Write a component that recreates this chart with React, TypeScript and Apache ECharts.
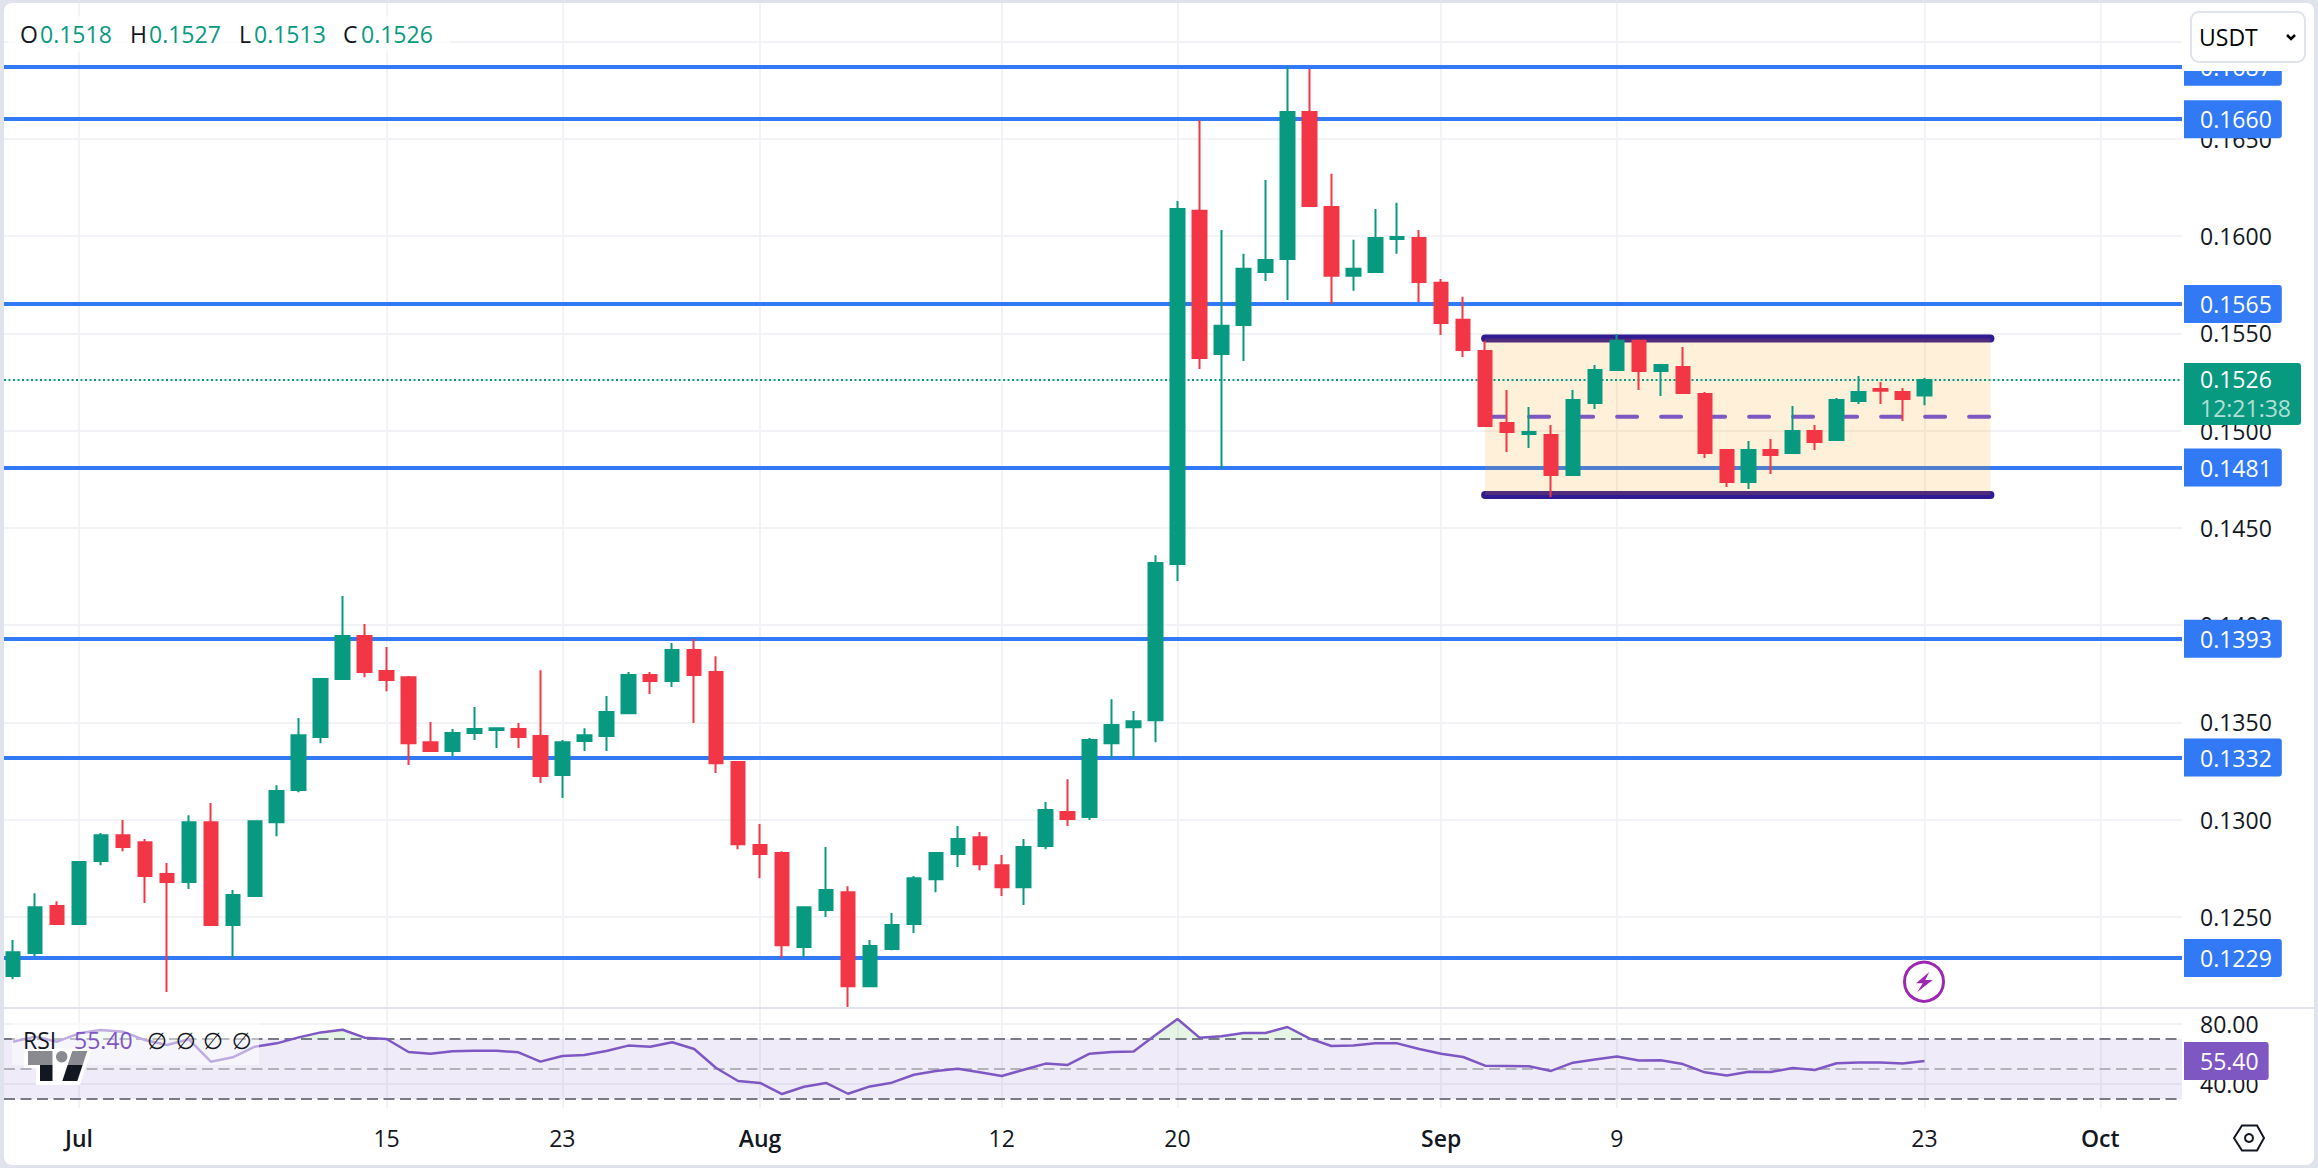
import React, { useEffect, useRef } from "react";
import * as echarts from "echarts";

const W = 2318;
const H = 1168;
const FONT = '"Open Sans", "DejaVu Sans", sans-serif';
const FS = 23;
const UP = "#089981";
const DOWN = "#f23645";
const BLUE = "#3179f5";
const PURPLE = "#7e57c2";
const GRID = "#f2f3f6";
const INK = "#131722";

// day offset from 28 Jun for each candle is its array index
const opens = [
  0.12197, 0.12315, 0.12557, 0.12464, 0.12788, 0.12921, 0.12885, 0.12721, 0.1268, 0.12988,
  0.12459, 0.12608, 0.12988, 0.13153, 0.13425, 0.13723, 0.13944, 0.13764, 0.13733, 0.13399,
  0.13353, 0.13446, 0.13461, 0.13466, 0.1343, 0.1323, 0.13405, 0.1343, 0.13548, 0.13744,
  0.13713, 0.13872, 0.13759, 0.13297, 0.1287, 0.12829, 0.12346, 0.12536, 0.12628, 0.12145,
  0.12336, 0.12464, 0.12695, 0.12824, 0.12911, 0.12767, 0.12654, 0.12865, 0.1304, 0.13014,
  0.13394, 0.13476, 0.13512, 0.14314, 0.16129, 0.15394, 0.15543, 0.15815, 0.15882, 0.16637,
  0.16149, 0.15795, 0.15815, 0.15985, 0.1599, 0.15759, 0.15569, 0.15409, 0.15039, 0.14983,
  0.14977, 0.14772, 0.15142, 0.15311, 0.15461, 0.15306, 0.15327, 0.15188, 0.149, 0.14736,
  0.149, 0.14885, 0.14998, 0.14952, 0.15152, 0.15214, 0.15198, 0.1518,
];
const closes = [
  0.1232, 0.12551, 0.12464, 0.12783, 0.12921, 0.1286, 0.12711, 0.1268, 0.12988, 0.12459,
  0.12613, 0.12993, 0.13148, 0.13435, 0.13723, 0.13944, 0.13759, 0.13718, 0.13394, 0.13353,
  0.13446, 0.13466, 0.13471, 0.13425, 0.13225, 0.13399, 0.13435, 0.13554, 0.13744, 0.13713,
  0.13872, 0.13744, 0.13291, 0.12875, 0.12824, 0.12356, 0.12551, 0.12639, 0.12145, 0.12351,
  0.12459, 0.127, 0.12829, 0.12901, 0.12772, 0.12654, 0.1286, 0.1305, 0.13004, 0.1341,
  0.13487, 0.13507, 0.14319, 0.16139, 0.15373, 0.15538, 0.15831, 0.15877, 0.16637, 0.16154,
  0.15795, 0.15831, 0.1599, 0.15995, 0.15764, 0.15553, 0.15414, 0.15024, 0.14993, 0.14993,
  0.14772, 0.15157, 0.15311, 0.15461, 0.15306, 0.15337, 0.15193, 0.14885, 0.14736, 0.149,
  0.14875, 0.14998, 0.14941, 0.15157, 0.15198, 0.15204, 0.15162, 0.1526,
];
const highs = [
  0.12382, 0.12623, 0.12582, 0.12783, 0.12932, 0.12999, 0.12901, 0.12778, 0.13024, 0.13086,
  0.12639, 0.12993, 0.13178, 0.13523, 0.13728, 0.1415, 0.14006, 0.13888, 0.13739, 0.13502,
  0.13466, 0.13579, 0.13476, 0.13497, 0.13769, 0.1341, 0.13471, 0.13636, 0.13759, 0.13759,
  0.13908, 0.13929, 0.13841, 0.13297, 0.12978, 0.12839, 0.12551, 0.1286, 0.12659, 0.12382,
  0.12521, 0.12711, 0.12829, 0.12968, 0.12937, 0.12819, 0.12901, 0.13091, 0.13209, 0.1342,
  0.1362, 0.13559, 0.1436, 0.1618, 0.16596, 0.16031, 0.15908, 0.16288, 0.16869, 0.16858,
  0.16319, 0.1598, 0.16139, 0.1617, 0.16031, 0.15779, 0.15687, 0.15461, 0.15209, 0.15121,
  0.15029, 0.15209, 0.15337, 0.15496, 0.15461, 0.15337, 0.1543, 0.15198, 0.149, 0.14947,
  0.14957, 0.15126, 0.15029, 0.15168, 0.15281, 0.1525, 0.15219, 0.1527,
];
const lows = [
  0.12181, 0.123, 0.12464, 0.12464, 0.12767, 0.12839, 0.12572, 0.12115, 0.12644, 0.12454,
  0.12291, 0.12608, 0.12916, 0.13142, 0.13394, 0.13723, 0.13733, 0.13661, 0.13281, 0.13353,
  0.13327, 0.1341, 0.13369, 0.13369, 0.13189, 0.13112, 0.13353, 0.13353, 0.13548, 0.13646,
  0.13682, 0.13497, 0.1324, 0.12849, 0.127, 0.12291, 0.12294, 0.125, 0.12037, 0.1214,
  0.1233, 0.12418, 0.12628, 0.12757, 0.12741, 0.12608, 0.12562, 0.12849, 0.12968, 0.12999,
  0.13317, 0.13317, 0.13399, 0.14227, 0.15317, 0.14808, 0.15358, 0.15769, 0.15671, 0.16149,
  0.15651, 0.15718, 0.1581, 0.15908, 0.15661, 0.15491, 0.15378, 0.15024, 0.1489, 0.14911,
  0.14659, 0.14772, 0.15111, 0.15311, 0.15209, 0.15178, 0.15188, 0.14859, 0.1471, 0.147,
  0.14777, 0.1488, 0.149, 0.14947, 0.15137, 0.15137, 0.15049, 0.1513,
];
const rsi = [
  68.2, 71.6, 68.2, 73.8, 76.0, 74.9, 69.3, 66.0, 69.8, 54.9,
  57.8, 64.9, 67.1, 71.1, 74.4, 76.2, 70.9, 70.0, 61.3, 60.2,
  61.8, 62.2, 62.2, 61.1, 54.9, 58.7, 59.3, 62.0, 65.6, 64.9,
  67.8, 63.3, 50.7, 42.0, 40.7, 33.3, 38.2, 40.7, 33.5, 38.4,
  40.9, 46.2, 48.7, 50.2, 47.8, 45.3, 49.5, 53.6, 52.7, 60.2,
  61.3, 61.6, 72.7, 83.3, 70.9, 71.8, 74.0, 74.0, 78.0, 70.4,
  65.3, 65.6, 67.1, 67.1, 63.3, 60.2, 58.0, 52.2, 52.0, 51.8,
  48.7, 54.2, 56.4, 58.4, 55.6, 55.8, 53.3, 47.8, 45.6, 48.2,
  48.0, 50.7, 49.3, 53.8, 54.4, 54.4, 53.6, 55.4,
];

const priceGridTicks = [0.125, 0.13, 0.135, 0.14, 0.145, 0.15, 0.155, 0.16, 0.165, 0.17];
const priceLabelTicks = [0.125, 0.13, 0.135, 0.14, 0.145, 0.15, 0.155, 0.16, 0.165];
const rsiTicks = [40, 80];
const levels = [0.1687, 0.166, 0.1565, 0.1481, 0.1393, 0.1332, 0.1229];
const lastPrice = 0.1526;
const lastRsi = 55.4;
const countdown = "12:21:38";
const xTickDays = [3, 17, 25, 34, 45, 53, 65, 73, 87, 95];
const xTickLabels = ["Jul", "15", "23", "Aug", "12", "20", "Sep", "9", "23", "Oct"];
const monthLabels = ["Jul", "Aug", "Sep", "Oct"];
const rangeDays = [67, 90];
const rangeTop = 0.15473;
const rangeMid = 0.15071;
const rangeBottom = 0.14669;
const ohlcLegend = [
  { key: "O", val: "0.1518", kx: 20, vx: 40 },
  { key: "H", val: "0.1527", kx: 130, vx: 149 },
  { key: "L", val: "0.1513", kx: 239, vx: 254 },
  { key: "C", val: "0.1526", kx: 343, vx: 361 },
];

const txt = (text: string, x: number, y: number, fill: string, z: number, extra: any = {}) => ({
  type: "text",
  x,
  y,
  z,
  silent: true,
  style: { text, fill, fontSize: FS, fontFamily: FONT, align: "left", verticalAlign: "middle", ...extra },
});

const graphicEls: any[] = [
  // pane separator
  { type: "line", z: 50, silent: true, shape: { x1: 4, y1: 1008, x2: 2315, y2: 1008 }, style: { stroke: "#e0e3eb", lineWidth: 2 } },
  // mask behind the currency selector
  { type: "rect", z: 100, silent: true, shape: { x: 2183, y: 4, width: 128, height: 67 }, style: { fill: "#ffffff" } },
  { type: "rect", z: 101, silent: true, shape: { x: 2191, y: 12, width: 114, height: 50, r: 8 }, style: { fill: "#ffffff", stroke: "#e0e3eb", lineWidth: 2 } },
  txt("USDT", 2199, 37, "#000000", 102),
  { type: "polyline", z: 102, silent: true, shape: { points: [[2287, 35], [2291, 39], [2295, 35]] }, style: { stroke: "#000000", lineWidth: 2.5, fill: "none" } },
  // OHLC legend
  { type: "rect", z: 100, silent: true, shape: { x: 8, y: 16, width: 442, height: 36, r: 4 }, style: { fill: "rgba(255,255,255,0.7)" } },
  ...ohlcLegend.flatMap((o) => [txt(o.key, o.kx, 34, INK, 102), txt(o.val, o.vx, 34, UP, 102)]),
  // TradingView mark and RSI legend
  { type: "polygon", z: 89, silent: true, shape: { points: [[24, 1048], [92, 1048], [80, 1085], [36, 1085], [36, 1068], [24, 1068]] }, style: { fill: "#ffffff" } },
  { type: "polygon", z: 90, silent: true, shape: { points: [[28, 1051], [52.5, 1051], [52.5, 1081], [40, 1081], [40, 1065], [28, 1065]] }, style: { fill: INK } },
  { type: "circle", z: 90, silent: true, shape: { cx: 61.7, cy: 1056.7, r: 5.7 }, style: { fill: INK } },
  { type: "polygon", z: 90, silent: true, shape: { points: [[72.3, 1051], [87.3, 1051], [77.3, 1081], [62.3, 1081]] }, style: { fill: INK } },
  { type: "rect", z: 91, silent: true, shape: { x: 12, y: 1023, width: 247, height: 42 }, style: { fill: "rgba(255,255,255,0.5)" } },
  txt("RSI", 23, 1040, INK, 92),
  txt("55.40", 74, 1040, PURPLE, 92),
  ...[157, 185.7, 213, 241.7].map((x) => txt("\u2205", x, 1040, INK, 92, { align: "center" })),
  // flash icon
  { type: "circle", z: 60, silent: true, shape: { cx: 1924, cy: 981.7, r: 22 }, style: { fill: "#ffffff" } },
  { type: "circle", z: 61, silent: true, shape: { cx: 1924, cy: 981.7, r: 19.5 }, style: { fill: "#ffffff", stroke: "#9c27b0", lineWidth: 3 } },
  { type: "polygon", z: 62, silent: true, shape: { points: [[1929.3, 972], [1916, 983.3], [1922.7, 983.3], [1917.3, 992], [1932.7, 980], [1925.3, 980]] }, style: { fill: "#9c27b0" } },
  // settings icon
  { type: "polygon", z: 60, silent: true, shape: { points: [[2234, 1138], [2242, 1125.5], [2257, 1125.5], [2264, 1138], [2257, 1150.5], [2242, 1150.5]] }, style: { fill: "none", stroke: INK, lineWidth: 2 } },
  { type: "circle", z: 60, silent: true, shape: { cx: 2249, cy: 1138, r: 4 }, style: { fill: "none", stroke: INK, lineWidth: 2 } },
];

const xCommon = (gridIndex: number, showLabel: boolean) => ({
  type: "value",
  gridIndex,
  min: -0.414,
  max: 98.72,
  axisLine: { show: false },
  axisTick: { show: false, customValues: xTickDays },
  splitLine: { show: gridIndex !== 2, lineStyle: { color: GRID, width: 2 } },
  axisLabel: {
    show: showLabel,
    customValues: xTickDays,
    margin: 18,
    fontSize: FS,
    fontFamily: FONT,
    color: INK,
    hideOverlap: false,
    showMinLabel: true,
    showMaxLabel: true,
    formatter: (v: number) => {
      const s = xTickLabels[xTickDays.indexOf(Math.round(v))] ?? "";
      return monthLabels.includes(s) ? `{m|${s}}` : s;
    },
    rich: { m: { fontSize: FS, fontFamily: FONT, color: INK, fontWeight: 600 } },
  },
});

const yLabel = (digits: number, values: number[]) => ({
  customValues: values,
  margin: 18,
  fontSize: FS,
  fontFamily: FONT,
  color: INK,
  formatter: (v: number) => Number(v).toFixed(digits),
});

const option: any = {
  animation: false,
  backgroundColor: "transparent",
  textStyle: { fontFamily: FONT },
  grid: [
    { left: 4, top: 3, width: 2178, height: 1005 },
    { left: 4, top: 1009, width: 2178, height: 99 },
    { left: 4, top: 1009, width: 2178, height: 30 },
  ],
  xAxis: [xCommon(0, false), xCommon(1, true), xCommon(2, false)],
  yAxis: [
    {
      type: "value",
      gridIndex: 0,
      position: "right",
      min: 0.12033,
      max: 0.17197,
      axisLine: { show: false },
      axisTick: { show: false, customValues: priceGridTicks },
      splitLine: { show: true, lineStyle: { color: GRID, width: 2 } },
      axisLabel: yLabel(4, priceLabelTicks),
    },
    {
      type: "value",
      gridIndex: 1,
      position: "right",
      min: 24,
      max: 90,
      axisLine: { show: false },
      axisTick: { show: false, customValues: rsiTicks },
      splitLine: { show: true, lineStyle: { color: GRID, width: 2 } },
      axisLabel: yLabel(2, rsiTicks),
    },
    {
      type: "value",
      gridIndex: 2,
      position: "right",
      min: 70,
      max: 90,
      axisLine: { show: false },
      axisTick: { show: false },
      splitLine: { show: false },
      axisLabel: { show: false },
    },
  ],
  series: [
    {
      name: "levels",
      type: "line",
      xAxisIndex: 0,
      yAxisIndex: 0,
      z: 2,
      data: [],
      silent: true,
      markLine: {
        z: 2,
        silent: true,
        symbol: "none",
        precision: 5,
        lineStyle: { color: BLUE, width: 4, type: "solid" },
        label: {
          show: true,
          position: "end",
          distance: 2,
          formatter: (p: any) => Number(p.value).toFixed(4),
          color: "#ffffff",
          backgroundColor: BLUE,
          padding: [8, 10, 7, 16],
          borderRadius: [0, 3, 3, 0],
          fontSize: FS,
          fontFamily: FONT,
        },
        data: levels.map((v) => ({ yAxis: v })),
      },
    },
    {
      name: "range box",
      type: "line",
      xAxisIndex: 0,
      yAxisIndex: 0,
      z: 3,
      data: [],
      silent: true,
      markArea: {
        z: 3,
        silent: true,
        itemStyle: { color: "rgba(255,152,0,0.15)" },
        data: [[{ coord: [rangeDays[0], rangeTop] }, { coord: [rangeDays[1], rangeBottom] }]],
      },
    },
    ...[rangeTop, rangeBottom].map((v) => ({
      name: "range edge",
      type: "line",
      xAxisIndex: 0,
      yAxisIndex: 0,
      z: 2,
      silent: true,
      showSymbol: false,
      symbol: "none",
      clip: false,
      lineStyle: { color: "#311b92", width: 8, cap: "round" },
      data: rangeDays.map((d) => [d, v]),
    })),
    {
      name: "range mid",
      type: "line",
      xAxisIndex: 0,
      yAxisIndex: 0,
      z: 4,
      silent: true,
      showSymbol: false,
      symbol: "none",
      lineStyle: { color: PURPLE, width: 4, type: [20, 24], cap: "round" },
      data: rangeDays.map((d) => [d, rangeMid]),
    },
    {
      name: "last price",
      type: "line",
      xAxisIndex: 0,
      yAxisIndex: 0,
      z: 4,
      data: [],
      silent: true,
      markLine: {
        z: 4,
        silent: true,
        symbol: "none",
        precision: 5,
        lineStyle: { color: UP, width: 2, type: [2, 2.5] },
        label: {
          show: true,
          position: "end",
          distance: 2,
          offset: [0, 14],
          formatter: (p: any) => `{a|${Number(p.value).toFixed(4)}}\n{b|${countdown}}`,
          backgroundColor: UP,
          padding: [2, 10, 2, 16],
          borderRadius: [0, 3, 3, 0],
          rich: {
            a: { color: "#ffffff", fontSize: FS, fontFamily: FONT, lineHeight: 29 },
            b: { color: "rgba(255,255,255,0.7)", fontSize: FS, fontFamily: FONT, lineHeight: 29 },
          },
        },
        data: [{ yAxis: lastPrice }],
      },
    },
    {
      name: "GALA/USDT",
      type: "candlestick",
      xAxisIndex: 0,
      yAxisIndex: 0,
      z: 6,
      silent: true,
      barWidth: 14,
      itemStyle: { color: UP, color0: DOWN, borderColor: UP, borderColor0: DOWN, borderWidth: 2 },
      data: opens.map((o, i) => [i, o, closes[i], lows[i], highs[i]]),
    },
    {
      name: "RSI",
      type: "line",
      xAxisIndex: 1,
      yAxisIndex: 1,
      z: 5,
      silent: true,
      showSymbol: false,
      symbol: "none",
      lineStyle: { color: PURPLE, width: 2.5 },
      data: rsi.map((v, i) => [i, v]),
      markArea: {
        z: 1,
        silent: true,
        itemStyle: { color: "rgba(126,87,194,0.12)" },
        data: [[{ yAxis: 70 }, { yAxis: 30 }]],
      },
      markLine: {
        z: 2,
        silent: true,
        symbol: "none",
        label: { show: false },
        data: [
          { yAxis: 70, lineStyle: { color: "#787b86", width: 2, type: [11, 5.5] } },
          { yAxis: 50, lineStyle: { color: "#b2b3ba", width: 2, type: [11, 5.5] } },
          { yAxis: 30, lineStyle: { color: "#787b86", width: 2, type: [11, 5.5] } },
        ],
      },
    },
    {
      name: "RSI overbought",
      type: "line",
      xAxisIndex: 2,
      yAxisIndex: 2,
      z: 4,
      silent: true,
      showSymbol: false,
      symbol: "none",
      lineStyle: { width: 0, opacity: 0 },
      areaStyle: { color: "rgba(76,175,80,0.2)", origin: "start" },
      data: rsi.map((v, i) => [i, v]),
    },
    {
      name: "RSI value",
      type: "line",
      xAxisIndex: 1,
      yAxisIndex: 1,
      z: 6,
      data: [],
      silent: true,
      markLine: {
        z: 6,
        silent: true,
        symbol: "none",
        precision: 2,
        lineStyle: { color: "rgba(0,0,0,0)", width: 1 },
        label: {
          show: true,
          position: "end",
          distance: 2,
          formatter: (p: any) => Number(p.value).toFixed(2),
          color: "#ffffff",
          backgroundColor: PURPLE,
          padding: [8, 10, 7, 16],
          borderRadius: [0, 3, 3, 0],
          fontSize: FS,
          fontFamily: FONT,
        },
        data: [{ yAxis: lastRsi }],
      },
    },
  ],
  graphic: { elements: graphicEls },
};

export default function App() {
  const ref = useRef<HTMLDivElement>(null);
  useEffect(() => {
    const chart = echarts.init(ref.current!, null, { renderer: "svg", width: W, height: H });
    chart.setOption(option);
    return () => chart.dispose();
  }, []);
  return (
    <div style={{ position: "fixed", left: 0, top: 0, width: W, height: H, background: "#e0e3eb", overflow: "hidden" }}>
      <div style={{ position: "absolute", left: 4, top: 3, width: 2310, height: 1162, background: "#ffffff", borderRadius: 8 }} />
      <div ref={ref} style={{ position: "absolute", left: 0, top: 0, width: W, height: H }} />
    </div>
  );
}
